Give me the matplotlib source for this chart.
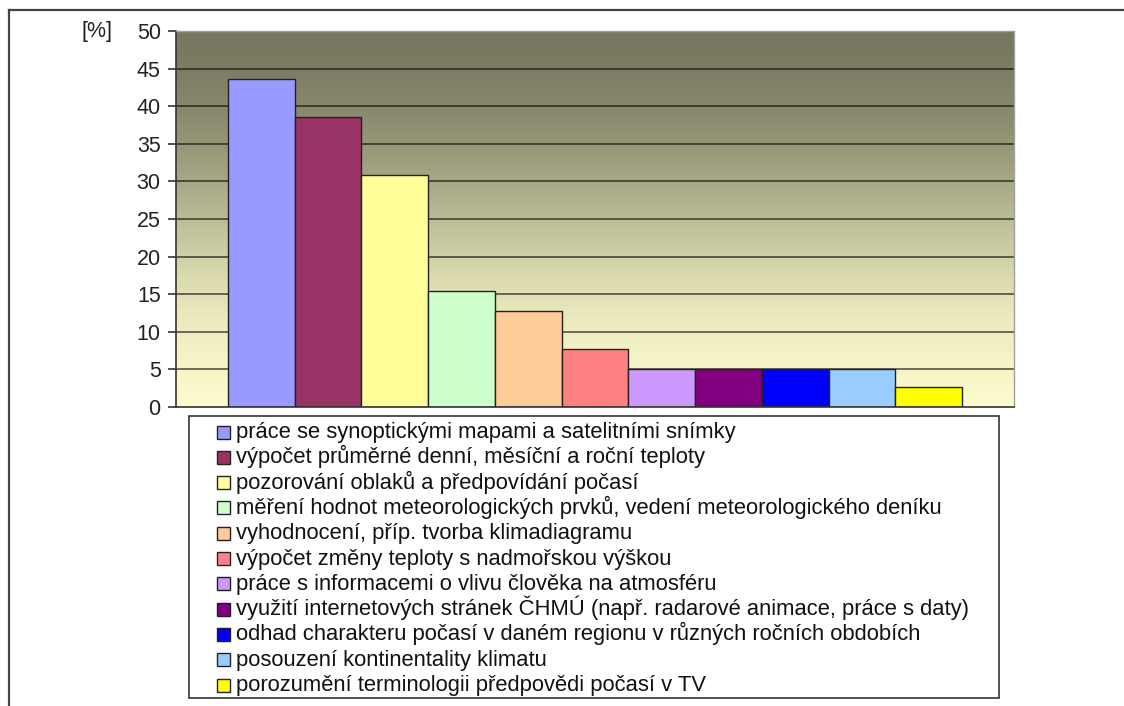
import numpy as np
import matplotlib
matplotlib.use('Agg')
import matplotlib.pyplot as plt
from matplotlib.colors import LinearSegmentedColormap
from matplotlib.lines import Line2D
from matplotlib.patches import Rectangle

plt.rcParams['font.family'] = ['Liberation Sans', 'DejaVu Sans']

labels = [
    'práce se synoptickými mapami a satelitními snímky',
    'výpočet průměrné denní, měsíční a roční teploty',
    'pozorování oblaků a předpovídání počasí',
    'měření hodnot meteorologických prvků, vedení meteorologického deníku',
    'vyhodnocení, příp. tvorba klimadiagramu',
    'výpočet změny teploty s nadmořskou výškou',
    'práce s informacemi o vlivu člověka na atmosféru',
    'využití internetových stránek ČHMÚ (např. radarové animace, práce s daty)',
    'odhad charakteru počasí v daném regionu v různých ročních obdobích',
    'posouzení kontinentality klimatu',
    'porozumění terminologii předpovědi počasí v TV',
]
values = [43.6, 38.5, 30.8, 15.4, 12.8, 7.7, 5.1, 5.1, 5.1, 5.1, 2.6]
colors = ['#9999FF', '#993366', '#FFFF99', '#CCFFCC', '#FFCC99', '#FF8080',
          '#CC99FF', '#800080', '#0000FF', '#99CCFF', '#FFFF00']
yticks = [0, 5, 10, 15, 20, 25, 30, 35, 40, 45, 50]

# background gradient (bottom -> top)
grad_colors = ['#FCFCCC', '#F6F4C8', '#ECECC0', '#DCDCB0', '#C8C8A0',
               '#B0B08E', '#9C9C7C', '#8A8A6E', '#7E7E64', '#76765E']

FS = 15.8
W, H = 1124, 706
fig = plt.figure(figsize=(W / 100, H / 100), dpi=100)
ax = fig.add_axes([176 / W, 1 - 407 / H, (1014 - 176) / W, (407 - 31) / H])

x = np.arange(len(values))
ax.set_xlim(-1.28, len(values) - 1 + 1.28)
ax.set_ylim(0, 50)

cmap = LinearSegmentedColormap.from_list('bg', grad_colors)
grad = np.linspace(0, 1, 256).reshape(-1, 1)
ax.imshow(grad, cmap=cmap, origin='lower', aspect='auto',
          extent=[-1.28, len(values) - 1 + 1.28, 0, 50], zorder=0)

for yv in yticks[1:-1]:
    ax.axhline(yv, color='black', alpha=0.6, lw=1.3, zorder=1)

bars = ax.bar(x, values, width=1.0, color=colors, edgecolor='#222222',
              linewidth=1.0, zorder=2)

ax.set_yticks(yticks)
ax.set_yticklabels([str(v) for v in yticks], fontsize=15.5, color='#222222')
ax.tick_params(axis='y', direction='out', length=6, width=1.2, color='#333333', pad=5)
ax.set_xticks([])
for s in ['top', 'right']:
    ax.spines[s].set_color('#A0A0A0')
    ax.spines[s].set_linewidth(1.0)
ax.spines['left'].set_color('#333333')
ax.spines['left'].set_linewidth(1.2)
ax.spines['bottom'].set_color('#333333')
ax.spines['bottom'].set_linewidth(1.2)

fig.text(97 / W, 1 - 31 / H, '[%]', fontsize=15.5, ha='center', va='center', color='#222222')

# legend box, entries laid out row by row
fig.add_artist(Rectangle((189 / W, 1 - 698 / H), (999 - 189) / W, (698 - 416) / H,
                         transform=fig.transFigure, facecolor='white',
                         edgecolor='#333333', lw=1.2))
row_h = 25.3
for i, (lab, c) in enumerate(zip(labels, colors)):
    yc = 432 + i * row_h
    fig.add_artist(Rectangle((217 / W, 1 - (yc + 6.5) / H), 13 / W, 13 / H,
                             transform=fig.transFigure, facecolor=c,
                             edgecolor='#222222', lw=1.0))
    fig.text(236 / W, 1 - (yc + 6) / H, lab, fontsize=FS, ha='left',
             va='baseline', color='#111111')

# outer frame
fig.add_artist(Line2D([8.5 / W, 8.5 / W], [0, 1 - 10 / H], color='#444444', lw=1.6))
fig.add_artist(Line2D([8.5 / W, 1], [1 - 10 / H, 1 - 10 / H], color='#444444', lw=1.6))

fig.savefig('out.png', dpi=100)
